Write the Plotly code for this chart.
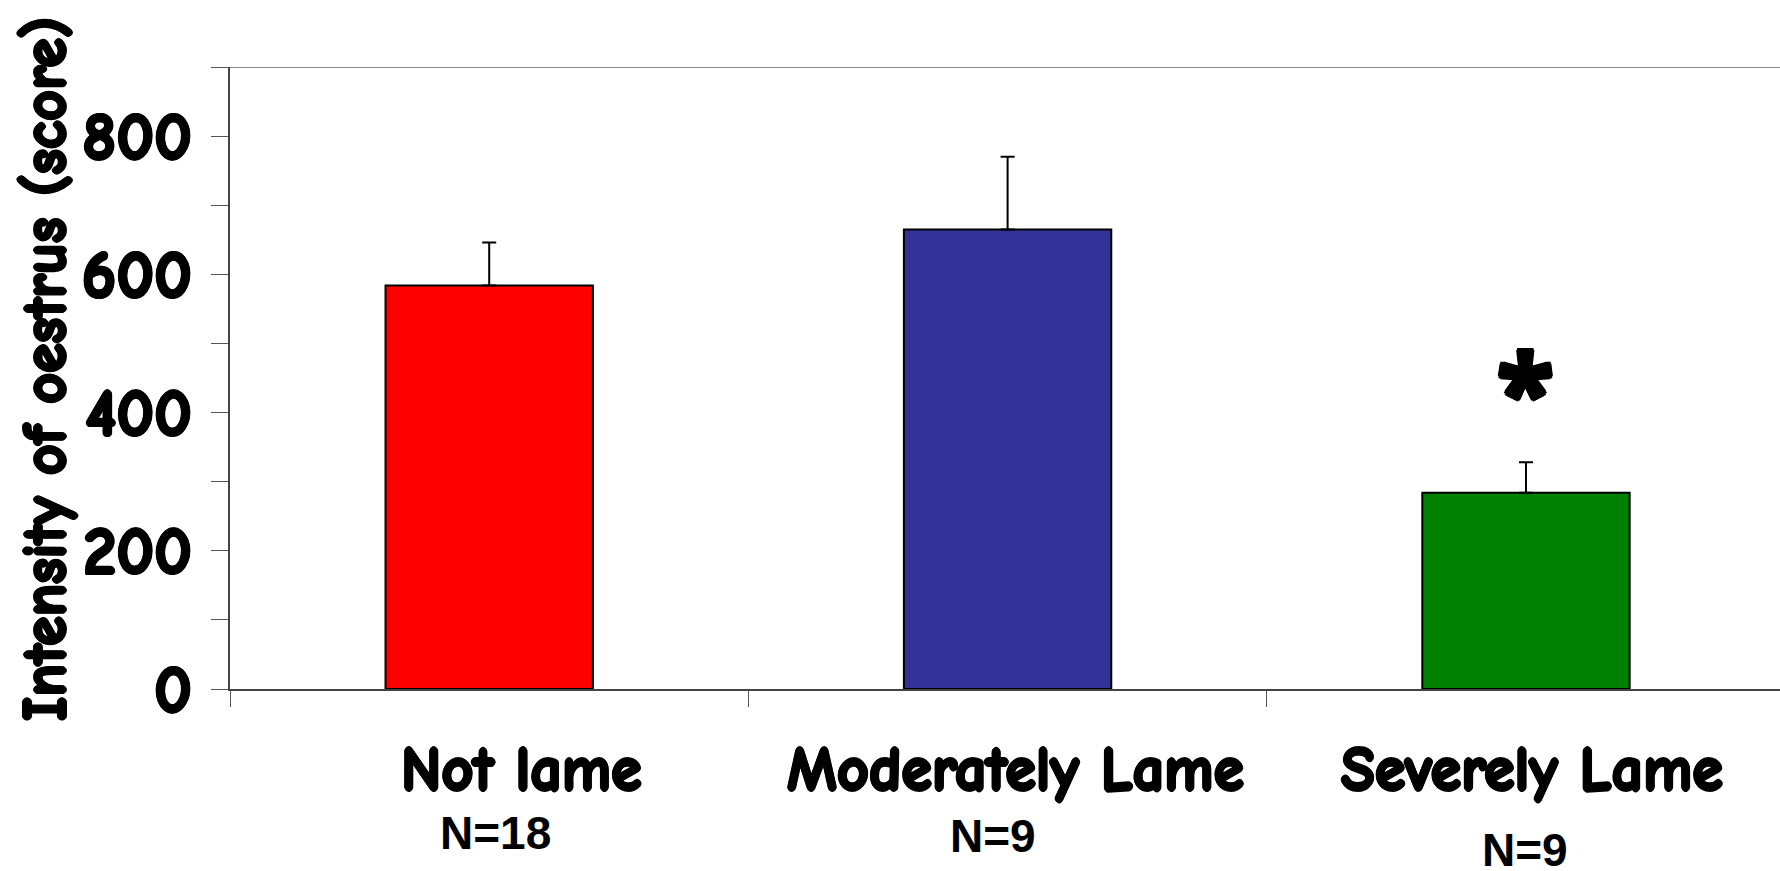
import plotly.graph_objects as go

# Oestrus intensity by lameness group
categories = ["Not lame", "Moderately Lame", "Severely Lame"]
group_sizes = ["N=18", "N=9", "N=9"]
mean_scores = [584, 665, 284]
sem_scores = [62, 105, 44]
bar_colors = ["#FF0000", "#333399", "#008000"]
signif_marks = ["", "", "*"]
signif_level = 447

y_ticks = [0, 200, 400, 600, 800]

W, H = 1780, 871
PLOT_L, PLOT_R = 230, 1780
PLOT_T, PLOT_B = 67, 689

LABEL_FONT = "Comic Sans MS, Comic Neue, Noto Sans, sans-serif"
N_FONT = "Arial, Liberation Sans, sans-serif"
# heavier strokes for the rounded label face
HEAVY = ("1.6px 0 0 #000, -1.6px 0 0 #000, 0 1.6px 0 #000, 0 -1.6px 0 #000, "
         "1.1px 1.1px 0 #000, -1.1px -1.1px 0 #000, 1.1px -1.1px 0 #000, -1.1px 1.1px 0 #000")
STAR = ("2.5px 0 0 #000, -2.5px 0 0 #000, 0 2.5px 0 #000, 0 -2.5px 0 #000, "
        "1.8px 1.8px 0 #000, -1.8px -1.8px 0 #000, 1.8px -1.8px 0 #000, -1.8px 1.8px 0 #000")


def px_x(px):
    return (px - PLOT_L) / (PLOT_R - PLOT_L)


def px_y(py):
    return (PLOT_B - py) / (PLOT_B - PLOT_T)


def bold(s):
    return f"<b>{s}</b>"


fig = go.Figure()
fig.add_trace(
    go.Bar(
        x=categories,
        y=mean_scores,
        width=0.40,
        marker=dict(color=bar_colors, line=dict(color="black", width=2)),
        error_y=dict(
            type="data",
            symmetric=False,
            array=sem_scores,
            arrayminus=[0] * len(sem_scores),
            color="black",
            thickness=2,
            width=7,
        ),
        showlegend=False,
    )
)

# top frame line of the plot area
fig.add_shape(
    type="line", xref="paper", yref="y", x0=0, x1=1, y0=900, y1=900,
    line=dict(color="#8a8a8a", width=2),
)

annotations = []
label_x = [521, 1015, 1532]
for cat, lx in zip(categories, label_x):
    annotations.append(dict(
        text=bold(cat), xref="paper", yref="paper", x=px_x(lx), y=px_y(770),
        xanchor="center", yanchor="middle", showarrow=False,
        font=dict(family=LABEL_FONT, size=62, color="black", shadow=HEAVY),
    ))

n_x = [495, 993, 1525]
n_y = [833, 836, 850]
for n, nx, ny in zip(group_sizes, n_x, n_y):
    annotations.append(dict(
        text=bold(n), xref="paper", yref="paper", x=px_x(nx), y=px_y(ny),
        xanchor="center", yanchor="middle", showarrow=False,
        font=dict(family=N_FONT, size=46, color="black"),
    ))

for cat, mark in zip(categories, signif_marks):
    if mark:
        annotations.append(dict(
            text=bold(mark), x=cat, y=signif_level, xref="x", yref="y",
            xanchor="center", yanchor="middle", showarrow=False, yshift=-8,
            font=dict(family="Open Sans, sans-serif", size=104, color="black", shadow=STAR),
        ))

annotations.append(dict(
    text=bold("Intensity of oestrus (score)"), xref="paper", yref="paper",
    x=px_x(45), y=px_y(369), textangle=-90,
    xanchor="center", yanchor="middle", showarrow=False,
    font=dict(family=LABEL_FONT, size=60, color="black", shadow=HEAVY),
))

fig.update_layout(
    width=W, height=H,
    margin=dict(l=PLOT_L, r=W - PLOT_R, t=PLOT_T, b=H - PLOT_B, pad=0),
    plot_bgcolor="white", paper_bgcolor="white",
    annotations=annotations,
    bargap=0.6,
)

fig.update_xaxes(
    type="category",
    range=[-0.5, 2.49],
    showticklabels=False,
    ticks="outside", tickson="boundaries", ticklen=16, tickwidth=1,
    tickcolor="#555555",
    showline=True, linecolor="#444444", linewidth=2,
    showgrid=False, zeroline=False,
)

fig.update_yaxes(
    range=[0, 900],
    tickvals=y_ticks,
    ticktext=[bold(v) for v in y_ticks],
    ticks="outside", ticklen=17, tickwidth=1, tickcolor="#555555",
    minor=dict(dtick=100, ticks="outside", ticklen=17, tickwidth=1, tickcolor="#555555", showgrid=False),
    tickfont=dict(family=LABEL_FONT, size=66, color="black", shadow=HEAVY),
    ticklabelstandoff=6,
    showline=True, linecolor="#444444", linewidth=2,
    showgrid=False, zeroline=False,
)

fig.write_html("out.html")
